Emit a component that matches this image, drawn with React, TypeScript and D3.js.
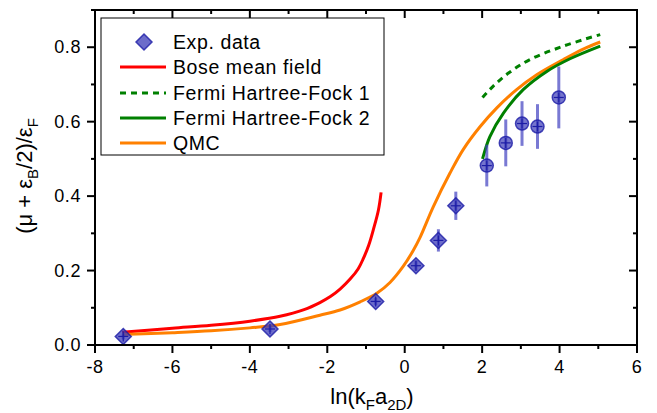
import * as d3 from "d3";
import React from "react";

// experimental points
const expX = [-7.27, -3.48, -0.75, 0.29, 0.87, 1.32, 2.12, 2.61, 3.03, 3.43, 3.98];
const expY = [0.023, 0.043, 0.117, 0.213, 0.281, 0.374, 0.482, 0.543, 0.595, 0.587, 0.665];
const expErr = [0.008, 0.008, 0.01, 0.014, 0.03, 0.038, 0.056, 0.063, 0.06, 0.06, 0.083];
const expShape = ["d", "d", "d", "d", "d", "d", "c", "c", "c", "c", "c"];

// theory curves
const boseX = [-7.3, -6, -5, -4, -3.22, -2.6, -2.19, -1.92, -1.67, -1.41, -1.2, -1.07, -0.93, -0.81, -0.68, -0.61];
const boseY = [0.034, 0.045, 0.053, 0.064, 0.077, 0.095, 0.114, 0.13, 0.15, 0.177, 0.205, 0.232, 0.268, 0.31, 0.362, 0.41];

const qmcX = [-7.3, -6, -5, -4, -3.22, -2.19, -1.67, -1.15, -0.72, -0.38, -0.04, 0.22, 0.4, 0.74, 1.17, 1.51, 1.95, 2.38, 2.89, 3.41, 4.1, 4.61, 5.05];
const qmcY = [0.028, 0.033, 0.038, 0.046, 0.055, 0.08, 0.094, 0.116, 0.139, 0.168, 0.211, 0.254, 0.29, 0.372, 0.462, 0.525, 0.587, 0.637, 0.686, 0.726, 0.767, 0.795, 0.814];

const hf1X = [2.01, 2.3, 2.7, 3.24, 4.1, 5.05];
const hf1Y = [0.665, 0.697, 0.732, 0.767, 0.803, 0.834];

const hf2X = [2.01, 2.2, 2.55, 3.06, 3.67, 4.27, 5.05];
const hf2Y = [0.5, 0.56, 0.623, 0.686, 0.735, 0.769, 0.803];

const xTicks = [-8, -6, -4, -2, 0, 2, 4, 6];
const xMinor = [-7, -5, -3, -1, 1, 3, 5];
const yTicks = [0, 0.2, 0.4, 0.6, 0.8];
const yMinor = [0.1, 0.3, 0.5, 0.7, 0.9];

const legendLabels = ["Exp. data", "Bose mean field", "Fermi Hartree-Fock 1", "Fermi Hartree-Fock 2", "QMC"];

const RED = "#ff0000";
const GREEN = "#008000";
const ORANGE = "#ff8000";
const PTFILL = "#3b3bb8";
const PTSTROKE = "#1c1ca6";
const FONT = "'Liberation Sans', Arial, sans-serif";

export default function App() {
  const x = d3.scaleLinear().domain([-8, 6]).range([95, 637]);
  const y = d3.scaleLinear().domain([0, 0.9]).range([345, 10]);

  const line = d3.line<[number, number]>()
    .x(d => x(d[0]))
    .y(d => y(d[1]))
    .curve(d3.curveCatmullRom.alpha(0.5));

  const zip = (a: number[], b: number[]) => a.map((v, i) => [v, b[i]] as [number, number]);

  const diamond = (cx: number, cy: number, r: number) =>
    `M${cx},${cy - r}L${cx + r},${cy}L${cx},${cy + r}L${cx - r},${cy}Z`;

  const left = 95, right = 637, top = 10, bottom = 345;
  const major = 8, minor = 4;

  const legY = [42, 67, 93, 118, 143];

  return (
    <svg width={657} height={413} style={{ position: "absolute", left: 0, top: 0, background: "#fff" }}
      fontFamily={FONT}>
      {/* curves */}
      <path d={line(zip(boseX, boseY)) || ""} fill="none" stroke={RED} strokeWidth={3} />
      <path d={line(zip(qmcX, qmcY)) || ""} fill="none" stroke={ORANGE} strokeWidth={3} />
      <path d={line(zip(hf1X, hf1Y)) || ""} fill="none" stroke={GREEN} strokeWidth={3} strokeDasharray="6,5" />
      <path d={line(zip(hf2X, hf2Y)) || ""} fill="none" stroke={GREEN} strokeWidth={3} />

      {/* experimental data */}
      {expX.map((vx, i) => {
        const cx = x(vx), cy = y(expY[i]);
        const y0 = y(expY[i] - expErr[i]), y1 = y(expY[i] + expErr[i]);
        return (
          <g key={i}>
            <line x1={cx} x2={cx} y1={y0} y2={y1} stroke="#4040c0" strokeOpacity={0.7} strokeWidth={3} />
            {expShape[i] === "d" ? (
              <path d={diamond(cx, cy, 8)} fill={PTFILL} fillOpacity={0.75} stroke={PTSTROKE} strokeOpacity={0.8} strokeWidth={1.5} />
            ) : (
              <circle cx={cx} cy={cy} r={6.5} fill={PTFILL} fillOpacity={0.7} stroke={PTSTROKE} strokeOpacity={0.8} strokeWidth={1.5} />
            )}
            <line x1={cx - 5} x2={cx + 5} y1={cy} y2={cy} stroke={PTSTROKE} strokeWidth={1.2} />
            <line x1={cx} x2={cx} y1={cy - 5} y2={cy + 5} stroke={PTSTROKE} strokeWidth={1.2} />
          </g>
        );
      })}

      {/* frame */}
      <rect x={left} y={top} width={right - left} height={bottom - top} fill="none" stroke="#000" strokeWidth={2} />

      {/* x ticks */}
      {xTicks.map(t => (
        <g key={"xt" + t}>
          <line x1={x(t)} x2={x(t)} y1={bottom} y2={bottom + major} stroke="#000" strokeWidth={2} />
          <line x1={x(t)} x2={x(t)} y1={top} y2={top + major} stroke="#000" strokeWidth={2} />
          <text x={x(t)} y={373} fontSize={18} letterSpacing={0.6} textAnchor="middle">{t}</text>
        </g>
      ))}
      {xMinor.map(t => (
        <g key={"xm" + t}>
          <line x1={x(t)} x2={x(t)} y1={bottom} y2={bottom + minor} stroke="#000" strokeWidth={2} />
          <line x1={x(t)} x2={x(t)} y1={top} y2={top + minor} stroke="#000" strokeWidth={2} />
        </g>
      ))}

      {/* y ticks */}
      {yTicks.map(t => (
        <g key={"yt" + t}>
          <line x1={left - major} x2={left} y1={y(t)} y2={y(t)} stroke="#000" strokeWidth={2} />
          <line x1={right - major} x2={right} y1={y(t)} y2={y(t)} stroke="#000" strokeWidth={2} />
          <text x={81} y={y(t) + 6} fontSize={18} letterSpacing={0.6} textAnchor="end">{d3.format(".1f")(t)}</text>
        </g>
      ))}
      {yMinor.map(t => (
        <g key={"ym" + t}>
          <line x1={left - minor} x2={left} y1={y(t)} y2={y(t)} stroke="#000" strokeWidth={2} />
          <line x1={right - minor} x2={right} y1={y(t)} y2={y(t)} stroke="#000" strokeWidth={2} />
        </g>
      ))}

      {/* axis titles */}
      <text x={372} y={404} fontSize={22} textAnchor="middle">
        ln(k<tspan fontSize={15} dy={6}>F</tspan><tspan dy={-6}>a</tspan><tspan fontSize={15} dy={6}>2D</tspan><tspan dy={-6}>)</tspan>
      </text>
      <text transform="translate(32,176) rotate(-90)" fontSize={22} textAnchor="middle">
        (μ + ε<tspan fontSize={15} dy={6}>B</tspan><tspan dy={-6}>/2)/ε</tspan><tspan fontSize={15} dy={6}>F</tspan>
      </text>

      {/* legend */}
      <rect x={101} y={18} width={283} height={137} fill="#fff" stroke="#000" strokeWidth={1} />
      <path d={diamond(144, legY[0], 8)} fill={PTFILL} fillOpacity={0.75} stroke={PTSTROKE} strokeOpacity={0.8} strokeWidth={1.5} />
      <line x1={120} x2={166} y1={legY[1]} y2={legY[1]} stroke={RED} strokeWidth={3} />
      <line x1={120} x2={166} y1={legY[2]} y2={legY[2]} stroke={GREEN} strokeWidth={3} strokeDasharray="6,5" />
      <line x1={120} x2={166} y1={legY[3]} y2={legY[3]} stroke={GREEN} strokeWidth={3} />
      <line x1={120} x2={166} y1={legY[4]} y2={legY[4]} stroke={ORANGE} strokeWidth={3} />
      {legendLabels.map((l, i) => (
        <text key={l} x={173} y={legY[i] + 7} fontSize={19.5} letterSpacing={0.6}>{l}</text>
      ))}
    </svg>
  );
}
